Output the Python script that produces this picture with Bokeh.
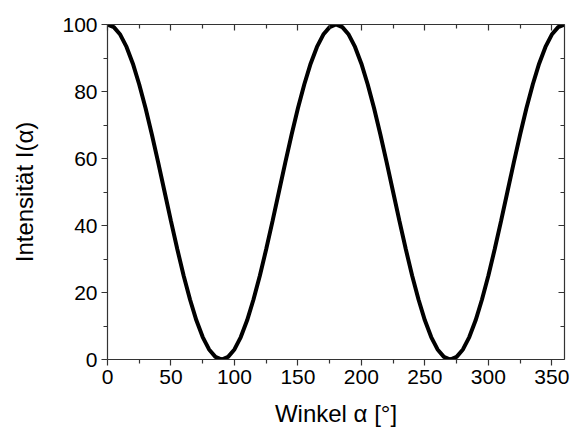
from bokeh.plotting import figure
from bokeh.models import Range1d, LinearAxis, FixedTicker
from bokeh.embed import file_html
from bokeh.resources import INLINE

# Angle (degrees) and intensity
winkel = [0, 5, 10, 15, 20, 25, 30, 35, 40, 45, 50, 55, 60, 65, 70, 75, 80, 85, 90,
          95, 100, 105, 110, 115, 120, 125, 130, 135, 140, 145, 150, 155, 160, 165, 170, 175, 180,
          185, 190, 195, 200, 205, 210, 215, 220, 225, 230, 235, 240, 245, 250, 255, 260, 265, 270,
          275, 280, 285, 290, 295, 300, 305, 310, 315, 320, 325, 330, 335, 340, 345, 350, 355, 360]
intensitaet = [100, 99.2, 97, 93.3, 88.3, 82.1, 75, 67.1, 58.7, 50, 41.3, 32.9, 25, 17.9, 11.7, 6.7, 3, 0.8, 0,
               0.8, 3, 6.7, 11.7, 17.9, 25, 32.9, 41.3, 50, 58.7, 67.1, 75, 82.1, 88.3, 93.3, 97, 99.2, 100,
               99.2, 97, 93.3, 88.3, 82.1, 75, 67.1, 58.7, 50, 41.3, 32.9, 25, 17.9, 11.7, 6.7, 3, 0.8, 0,
               0.8, 3, 6.7, 11.7, 17.9, 25, 32.9, 41.3, 50, 58.7, 67.1, 75, 82.1, 88.3, 93.3, 97, 99.2, 100]

x_ticks = [0, 50, 100, 150, 200, 250, 300, 350]
x_minor = [25, 75, 125, 175, 225, 275, 325]
y_ticks = [0, 20, 40, 60, 80, 100]
y_minor = [10, 30, 50, 70, 90]

FONT = "Liberation Sans"
AX_COL = "#333333"

p = figure(width=572, height=436, output_backend="svg", toolbar_location=None,
           x_range=Range1d(0, 360), y_range=Range1d(0, 100),
           min_border_left=107, min_border_right=8, min_border_top=24, min_border_bottom=77)
p.xgrid.visible = False
p.ygrid.visible = False
p.outline_line_color = None

p.line(winkel, intensitaet, line_color="black", line_width=4)


def style(ax, ticks, minor, labels=True, inward=False):
    ax.ticker = FixedTicker(ticks=ticks, minor_ticks=minor)
    ax.axis_line_color = AX_COL
    ax.axis_line_width = 1.2
    ax.major_tick_line_color = AX_COL
    ax.minor_tick_line_color = AX_COL
    ax.major_tick_line_width = 1.2
    ax.minor_tick_line_width = 1.2
    if inward:
        ax.major_tick_in, ax.major_tick_out = 6, 0
        ax.minor_tick_in, ax.minor_tick_out = 4, 0
    else:
        ax.major_tick_in, ax.major_tick_out = 0, 6
        ax.minor_tick_in, ax.minor_tick_out = 0, 4
    ax.major_label_text_font = FONT
    ax.major_label_text_font_size = "21px"
    ax.major_label_text_color = "black" if labels else None
    ax.axis_label_text_font = FONT
    ax.axis_label_text_font_size = "24px"
    ax.axis_label_text_font_style = "normal"
    ax.axis_label_text_color = "black"


style(p.xaxis[0], x_ticks, x_minor)
style(p.yaxis[0], y_ticks, y_minor)
p.xaxis[0].axis_label = "Winkel α [°]"
p.yaxis[0].axis_label = "Intensität I(α)"
p.xaxis[0].major_label_standoff = 4
p.yaxis[0].major_label_standoff = 4
p.xaxis[0].axis_label_standoff = 13
p.yaxis[0].axis_label_standoff = 21

top = LinearAxis()
style(top, x_ticks, x_minor, labels=False, inward=True)
top.major_label_text_font_size = "0px"
p.add_layout(top, "above")
right = LinearAxis()
style(right, y_ticks, y_minor, labels=False, inward=True)
right.major_label_text_font_size = "0px"
p.add_layout(right, "right")

open("out.html", "w").write(file_html(p, INLINE))
